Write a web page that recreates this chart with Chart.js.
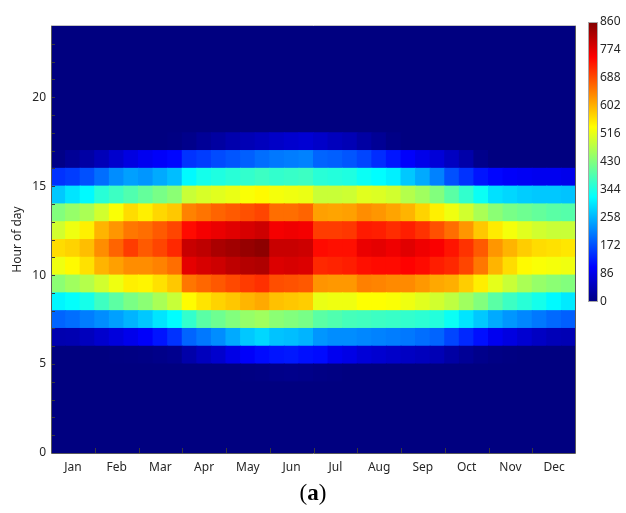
<!DOCTYPE html>
<html>
<head>
<meta charset="utf-8">
<script src="https://cdn.jsdelivr.net/npm/chart.js@4.4.1/dist/chart.umd.min.js"></script>
<style>
  html, body { margin: 0; padding: 0; background: #fff; }
  #wrap { position: relative; width: 626px; height: 513px; overflow: hidden; }
  #heat { position: absolute; left: 0; top: 0; }
  #cbar { position: absolute; left: 580px; top: 0; }
  #caption {
    position: absolute; left: 0; top: 480px; width: 626px;
    text-align: center; font-family: "Liberation Serif", serif; font-size: 23px; color: #000;
  }
</style>
</head>
<body>
<div id="wrap">
  <canvas id="heat" width="626" height="513"></canvas>
  <canvas id="cbar" width="46" height="320"></canvas>
  <div id="caption">(<b>a</b>)</div>
</div>
<script>
// Axis labels and ticks
const months = ['Jan', 'Feb', 'Mar', 'Apr', 'May', 'Jun', 'Jul', 'Aug', 'Sep', 'Oct', 'Nov', 'Dec'];
const hourTicks = [0, 5, 10, 15, 20];
const cbTicks = [0, 86, 172, 258, 344, 430, 516, 602, 688, 774, 860];
const cbMax = 860;
const colsPerMonth = 3;   // early / mid / late of each month

// Values per hour row (3 columns per month, Jan..Dec); hours not listed are 0
const h04 = [0,0,0, 0,0,0, 0,0,0, 0,0,0, 0,2,4, 8,10,8, 5,3,0, 0,0,0, 0,0,0, 0,0,0, 0,0,0, 0,0,0];
const h05 = [0,0,0, 0,2,3, 5,8,12, 35,52,65, 86,103,116, 124,128,120, 116,95,86, 74,68,62, 57,52,45, 31,19,10, 5,2,0, 0,0,0];
const h06 = [40,42,52, 65,78,91, 103,124,150, 192,209,226, 251,276,289, 272,268,259, 234,226,226, 221,217,213, 209,200,192, 166,141,120, 95,82,69, 57,48,44];
const h07 = [192,200,213, 226,242,259, 276,301,322, 365,398,415, 432,449,457, 440,432,424, 398,390,381, 377,373,370, 365,360,352, 331,301,276, 251,234,221, 209,196,188];
const h08 = [315,325,340, 375,400,425, 440,465,490, 540,560,575, 585,600,610, 590,585,580, 520,524,524, 537,537,533, 524,512,499, 483,457,432, 398,373,356, 339,318,305];
const h09 = [440,457,474, 499,524,550, 546,563,584, 653,666,678, 691,703,712, 687,683,678, 628,624,624, 645,641,636, 636,624,611, 605,580,552, 516,491,466, 449,440,432];
const h10 = [524,542,563, 601,618,634, 634,643,660, 774,786,795, 807,816,820, 782,786,782, 719,723,728, 740,744,744, 752,744,728, 719,694,652, 601,567,542, 533,529,525];
const h11 = [567,575,592, 634,668,702, 677,694,719, 799,807,824, 832,841,849, 799,799,795, 744,740,740, 769,774,765, 778,765,757, 736,710,677, 626,601,580, 567,563,558];
const h12 = [499,524,550, 601,626,652, 660,677,694, 744,761,769, 778,786,795, 761,765,761, 702,702,706, 731,727,715, 727,710,685, 660,626,584, 554,529,512, 499,491,491];
const h13 = [432,449,466, 499,533,567, 550,571,584, 643,655,668, 677,685,694, 660,660,668, 618,614,618, 634,626,614, 601,575,550, 525,499,466, 440,424,415, 407,398,394];
const h14 = [276,301,318, 356,373,390, 407,424,440, 491,504,512, 520,533,542, 529,525,521, 491,491,495, 512,508,499, 474,457,432, 398,365,331, 297,289,280, 276,276,272];
const h15 = [150,158,175, 200,226,242, 234,251,268, 318,339,348, 356,365,373, 365,369,373, 356,352,348, 331,322,310, 276,251,217, 175,150,124, 112,103,99, 95,95,91];
const h16 = [6,19,31, 48,65,82, 95,103,112, 150,158,171, 179,188,200, 209,213,217, 192,188,179, 166,145,125, 105,90,75, 55,35,10, 0,0,0, 0,0,0];
const h17 = [0,0,0, 0,0,0, 0,0,3, 10,20,28, 38,45,52, 60,66,70, 62,52,45, 30,18,6, 0,0,0, 0,0,0, 0,0,0, 0,0,0];

const hourRows = { 4: h04, 5: h05, 6: h06, 7: h07, 8: h08, 9: h09, 10: h10, 11: h11, 12: h12, 13: h13, 14: h14, 15: h15, 16: h16, 17: h17 };
const nCols = months.length * colsPerMonth;

// MATLAB style jet colormap
function jet(v) {
  const t = Math.min(Math.max(v / cbMax, 0), 1);
  const c = k => Math.round(255 * Math.min(Math.max(1.5 - Math.abs(4 * t - k), 0), 1));
  return `rgb(${c(3)},${c(2)},${c(1)})`;
}
const jetStops = [[0, '#000080'], [0.125, '#0000ff'], [0.375, '#00ffff'], [0.625, '#ffff00'], [0.875, '#ff0000'], [1, '#800000']];

Chart.defaults.font.family = '"Noto Sans", "Open Sans", sans-serif';
Chart.defaults.font.size = 12;
Chart.defaults.color = '#262626';

// Build one floating-bar dataset per hour row
const datasets = [];
for (let h = 0; h < 24; h++) {
  const row = hourRows[h] || new Array(nCols).fill(0);
  datasets.push({
    label: 'h' + h,
    data: row.map((v, i) => ({ x: (i + 0.5) / colsPerMonth, y: [h, h + 1] })),
    backgroundColor: row.map(jet),
    borderWidth: 0,
    grouped: false,
    categoryPercentage: 1,
    barPercentage: 1,
    inflateAmount: 0.5
  });
}

// Box around plot + inward tick marks
const frameTicks = {
  id: 'frameTicks',
  afterDatasetsDraw(chart) {
    const { ctx, chartArea: a, scales: { x, y } } = chart;
    ctx.save();
    ctx.lineWidth = 1;
    ctx.strokeStyle = '#3a3a3a';
    ctx.beginPath();
    for (let m = 1; m < months.length; m++) {
      const px = Math.round(x.getPixelForValue(m)) + 0.5;
      ctx.moveTo(px, a.bottom);
      ctx.lineTo(px, a.bottom - 5);
    }
    for (let h = 1; h < 24; h++) {
      const py = Math.round(y.getPixelForValue(h)) + 0.5;
      ctx.moveTo(a.left, py);
      ctx.lineTo(a.left + 4, py);
    }
    ctx.stroke();
    ctx.strokeStyle = '#5a5a5a';
    ctx.beginPath();
    ctx.moveTo(Math.round(a.left) + 0.5, Math.round(a.top));
    ctx.lineTo(Math.round(a.left) + 0.5, Math.round(a.bottom) + 0.5);
    ctx.lineTo(Math.round(a.right) - 0.5, Math.round(a.bottom) + 0.5);
    ctx.lineTo(Math.round(a.right) - 0.5, Math.round(a.top));
    ctx.stroke();
    ctx.strokeStyle = '#c4c4c4';
    ctx.beginPath();
    ctx.moveTo(Math.round(a.left), Math.round(a.top) - 0.5);
    ctx.lineTo(Math.round(a.right), Math.round(a.top) - 0.5);
    ctx.stroke();
    ctx.restore();
  }
};

new Chart(document.getElementById('heat'), {
  type: 'bar',
  data: { datasets },
  plugins: [frameTicks],
  options: {
    responsive: false,
    animation: false,
    layout: { padding: { left: 0, top: 26, right: 50, bottom: 30 } },
    plugins: { legend: { display: false }, tooltip: { enabled: false } },
    scales: {
      x: {
        type: 'linear',
        offset: false,
        min: 0,
        max: months.length,
        afterBuildTicks: s => { s.ticks = months.map((m, i) => ({ value: i + 0.5 })); },
        afterFit: s => { s.height = 30; },
        grid: { display: false, drawTicks: false, offset: false },
        border: { display: false },
        ticks: { autoSkip: false, maxRotation: 0, padding: 7, callback: (v, i) => months[i] }
      },
      y: {
        type: 'linear',
        min: 0,
        max: 24,
        afterBuildTicks: s => { s.ticks = hourTicks.map(v => ({ value: v })); },
        afterFit: s => { s.width = 51; },
        grid: { display: false, drawTicks: false },
        border: { display: false },
        ticks: { padding: 5 },
        title: { display: true, text: 'Hour of day', font: { size: 12 }, padding: { top: 10, bottom: 0 } }
      }
    }
  }
});

// Colorbar as its own small chart
function jetGradient(context) {
  const { ctx, chartArea } = context.chart;
  if (!chartArea) return '#000080';
  const g = ctx.createLinearGradient(0, chartArea.bottom, 0, chartArea.top);
  jetStops.forEach(([t, c]) => g.addColorStop(t, c));
  return g;
}

new Chart(document.getElementById('cbar'), {
  type: 'bar',
  data: {
    labels: ['scale'],
    datasets: [{
      data: [[0, cbMax]],
      backgroundColor: jetGradient,
      borderColor: '#a8a8a8',
      borderWidth: 1,
      borderSkipped: false,
      categoryPercentage: 1,
      barPercentage: 1,
      inflateAmount: 0
    }]
  },
  options: {
    responsive: false,
    animation: false,
    layout: { padding: { left: 8, top: 22, right: 0, bottom: 18 } },
    plugins: { legend: { display: false }, tooltip: { enabled: false } },
    scales: {
      x: { display: false },
      y: {
        position: 'right',
        min: 0,
        max: cbMax,
        afterBuildTicks: s => { s.ticks = cbTicks.map(v => ({ value: v })); },
        afterFit: s => { s.width = 28; },
        grid: { display: false, drawTicks: false },
        border: { display: false },
        ticks: { padding: 2 }
      }
    }
  }
});
</script>
</body>
</html>
